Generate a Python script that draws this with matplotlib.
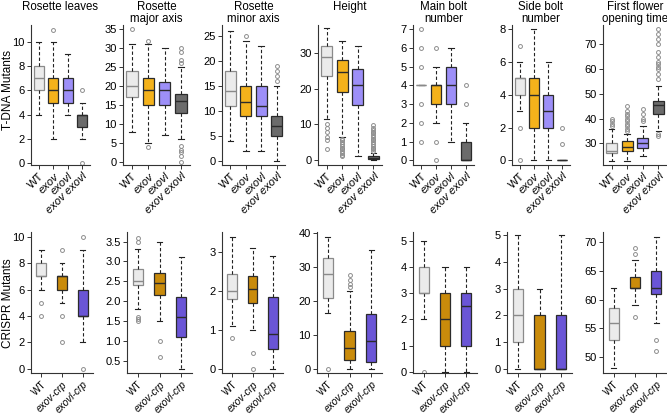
import matplotlib as mpl
mpl.use('Agg')
import matplotlib.pyplot as plt

plt.rcParams['font.family'] = ['Liberation Sans', 'DejaVu Sans']

# ---- data: [whislo, q1, med, q3, whishi] per genotype, plus outliers ----
tdna_labels = ['WT', 'exov', 'exovl', 'exov exovl']
crisp_labels = ['WT', 'exov-crp', 'exovl-crp']

titles = ['Rosette leaves', 'Rosette\nmajor axis', 'Rosette\nminor axis', 'Height',
          'Main bolt\nnumber', 'Side bolt\nnumber', 'First flower\nopening time']

leaves_t = [[4, 6, 7, 8, 10], [2, 5, 6, 7, 10], [4, 5, 6, 7, 9], [2, 3, 4, 4, 5]]
leaves_t_out = [[], [11], [], [0, 6]]
major_t = [[8, 17, 20, 24, 31], [5, 15, 19, 22, 31], [7, 15, 19, 21, 30], [6, 13, 16, 18, 25]]
major_t_out = [[35], [4, 32], [], [0, 1.5, 2.5, 3.2, 4.2, 26, 27, 29, 30]]
minor_t = [[4, 11, 14, 18, 26], [2, 9, 11.8, 15, 24], [2, 9, 11, 15, 23], [0, 5, 7, 9, 15]]
minor_t_out = [[], [25], [], [16, 17, 18, 19]]
height_t = [[11.5, 23.5, 29, 32, 37], [6.5, 19, 24.8, 28, 33.5], [1, 15.5, 21, 25.5, 32], [0, 0.3, 0.6, 1, 2]]
height_t_out = [[3, 5.5, 6.5, 8, 9, 10],
                [1, 1.5, 2, 2.5, 3, 3.5, 4, 4.5, 5, 5.5, 6],
                [],
                [2.5, 3, 3.5, 4, 4.5, 5, 5.5, 6, 6.5, 7, 7.5, 8, 8.5, 9, 9.8]]
main_t = [[4, 4, 4, 4, 4], [2, 3, 4, 4, 5], [1, 3, 4, 5, 6], [0, 0, 0, 1, 2]]
main_t_out = [[1, 2, 3, 5, 6, 7], [0, 1, 6], [], [3, 4]]
side_t = [[3, 4, 5, 5, 6], [0, 2, 4, 5, 8], [0, 2, 3, 4, 6], [0, 0, 0, 0, 0]]
side_t_out = [[0, 2, 7], [], [], [1, 2]]
flower_t = [[23, 26, 27, 30.3, 36], [23, 27, 28.5, 31, 34], [25, 28, 30, 32, 37], [35, 42, 45.5, 47, 53]]
flower_t_out = [[37, 38, 39, 40],
                [35, 36, 37, 38, 39, 40, 41, 42, 43, 45],
                [39, 40, 42, 44],
                [33, 34, 56, 58, 60, 61, 62, 63, 65, 67, 70, 72, 74, 76]]

leaves_c = [[6, 7, 7, 8, 9], [5, 6, 7, 7, 8], [2, 4, 4, 6, 9]]
leaves_c_out = [[4, 5], [2, 4, 9], [0, 10]]
major_c = [[1.8, 2.4, 2.5, 2.8, 3.3], [1.5, 2.15, 2.45, 2.7, 3.5], [0.3, 1.1, 1.6, 2.1, 3.1]]
major_c_out = [[1.5, 1.55, 1.6, 3.5, 3.6], [0.6, 1.0], []]
minor_c = [[1.1, 1.8, 2.0, 2.45, 3.4], [1.0, 1.7, 2.05, 2.4, 3.1], [0, 0.5, 0.9, 1.85, 2.9]]
minor_c_out = [[0.8], [0, 0.4], []]
height_c = [[16.5, 20.8, 28, 32.7, 38.8], [0, 2.5, 6.2, 11, 22.8], [0, 1.8, 8.2, 16, 35]]
height_c_out = [[0], [24, 25, 26, 27.5], []]
main_c = [[2, 3, 3, 4, 5], [0, 1, 2, 3, 4], [0, 1, 2.5, 3, 4]]
main_c_out = [[0], [], []]
side_c = [[0, 1, 2, 3, 5], [0, 0, 0, 2, 3], [0, 0, 0, 2, 5]]
side_c_out = [[], [], []]
flower_c = [[48, 53, 56, 58.5, 62], [59, 62, 62.1, 64, 67], [56, 61, 62, 65, 71]]
flower_c_out = [[], [57, 68, 69], [51, 53]]

tdna_stats = [leaves_t, major_t, minor_t, height_t, main_t, side_t, flower_t]
tdna_out = [leaves_t_out, major_t_out, minor_t_out, height_t_out, main_t_out, side_t_out, flower_t_out]
crisp_stats = [leaves_c, major_c, minor_c, height_c, main_c, side_c, flower_c]
crisp_out = [leaves_c_out, major_c_out, minor_c_out, height_c_out, main_c_out, side_c_out, flower_c_out]

tdna_ticks = [range(0, 11, 2), range(0, 36, 5), range(0, 26, 5), range(0, 31, 10),
              range(0, 8), range(0, 9, 2), range(30, 71, 10)]
crisp_ticks = [range(0, 11, 2), [0.5, 1.0, 1.5, 2.0, 2.5, 3.0, 3.5], range(0, 4), range(0, 41, 10),
               range(0, 6), range(0, 6), range(50, 71, 5)]

tdna_ylim = [(-0.2, 11.45), (-0.8, 36.1), (-0.8, 27.2), (-1.4, 37.9), (-0.25, 7.23), (-0.28, 8.26), (21.3, 77.8)]
crisp_ylim = [(-0.33, 10.38), (0.19, 3.74), (-0.11, 3.52), (-1.3, 40.3), (-0.04, 5.33), (-0.16, 5.13), (47.2, 71.8)]

# ---- styles ----
tdna_fill = ['#ebebeb', '#f4b21b', '#9d8ff8', '#6b6b6b']
crisp_fill = ['#ebebeb', '#c98b0b', '#6a55d6']
tdna_edge = ['#8a8a8a', '#2b2b2b', '#2b2b2b', '#2b2b2b']
crisp_edge = ['#8a8a8a', '#2b2b2b', '#2b2b2b']

W, H = 667, 416
top_x = [(31, 90), (123, 190), (222, 285), (318, 382), (413, 474), (512, 570), (603, 667)]
bot_x = [(31, 93), (127, 192), (222, 283), (317, 382), (413, 477), (507, 572), (603, 667)]

fig = plt.figure(figsize=(W / 100, H / 100), dpi=100)


def draw(ax, stats, outs, fills, edges, labels, width, xfs):
	bs = []
	for s, o in zip(stats, outs):
		bs.append(dict(whislo=s[0], q1=s[1], med=s[2], q3=s[3], whishi=s[4], fliers=o))
	n = len(bs)
	res = ax.bxp(bs, positions=range(1, n + 1), widths=width, patch_artist=True,
				 whiskerprops=dict(linestyle=(0, (3, 2)), linewidth=0.8, color='#222222'),
				 capprops=dict(linewidth=0.8, color='#222222'),
				 flierprops=dict(marker='o', markerfacecolor='none', markeredgecolor='#8c8c8c',
								 markersize=2.8, markeredgewidth=0.7),
				 medianprops=dict(linewidth=1.0))
	for i in range(n):
		res['boxes'][i].set_facecolor(fills[i])
		res['boxes'][i].set_edgecolor(edges[i])
		res['boxes'][i].set_linewidth(0.9)
		res['medians'][i].set_color(edges[i])
	ax.set_xlim(0.45 if n == 4 else 0.5, n + 0.55 if n == 4 else n + 0.5)
	ax.set_xticks(range(1, n + 1))
	ax.set_xticklabels(labels, rotation=45, ha='right', rotation_mode='anchor', fontsize=xfs)
	for t in ax.get_xticklabels():
		if t.get_text() != 'WT':
			t.set_style('italic')
	for side in ['top', 'right']:
		ax.spines[side].set_visible(False)
	for side in ['left', 'bottom']:
		ax.spines[side].set_linewidth(0.8)
		ax.spines[side].set_color('#333333')
	ax.tick_params(axis='both', length=3, width=0.7, color='#333333', labelsize=8, pad=1.5)
	ax.tick_params(axis='x', labelsize=xfs)


for i in range(7):
	x0, x1 = top_x[i]
	ax = fig.add_axes([x0 / W, 1 - 165 / H, (x1 - x0) / W, 140 / H])
	draw(ax, tdna_stats[i], tdna_out[i], tdna_fill, tdna_edge, tdna_labels, 0.7, 8)
	ax.set_yticks(list(tdna_ticks[i]))
	ax.set_ylim(*tdna_ylim[i])
	fig.text((x0 + x1) / 2 / W, 1 - 1 / H, titles[i], ha='center', va='top', fontsize=8.3,
			 linespacing=0.95)

	x0, x1 = bot_x[i]
	ax = fig.add_axes([x0 / W, 1 - 373 / H, (x1 - x0) / W, 141 / H])
	draw(ax, crisp_stats[i], crisp_out[i], crisp_fill, crisp_edge, crisp_labels, 0.48, 7.2)
	ax.set_yticks(list(crisp_ticks[i]))
	if i == 1:
		ax.set_yticklabels(['%.1f' % v for v in crisp_ticks[i]])
	ax.set_ylim(*crisp_ylim[i])

fig.text(8 / W, 1 - 90 / H, 'T-DNA Mutants', rotation=90, ha='center', va='center', fontsize=8.5)
fig.text(8 / W, 1 - 303 / H, 'CRISPR Mutants', rotation=90, ha='center', va='center', fontsize=8.5)

plt.savefig('out.png', dpi=100)
